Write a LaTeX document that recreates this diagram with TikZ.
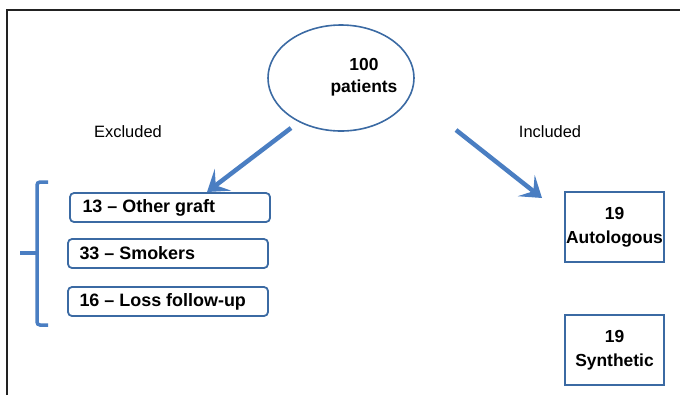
\documentclass[tikz,border=0pt]{standalone}
\usepackage{fontspec}
\setmainfont{Liberation Sans}
\usetikzlibrary{shapes.geometric,arrows.meta}
\definecolor{arrowblue}{HTML}{4A7EC2}
\definecolor{edgeblue}{HTML}{3B6AA3}
\definecolor{frameblack}{HTML}{222222}
\begin{document}
\begin{tikzpicture}[x=1bp,y=-1bp,
  boxtext/.style={font=\fontsize{18}{20}\selectfont\bfseries},
  exbox/.style={draw=edgeblue,line width=1.8bp,rounded corners=4bp,minimum width=200bp,minimum height=29bp,inner sep=0pt},
  inbox/.style={draw=edgeblue,line width=1.8bp,minimum width=99bp,minimum height=70bp,inner sep=0pt,align=center,font=\fontsize{17.5}{24}\selectfont\bfseries},
  bigarrow/.style={draw=arrowblue,line width=4.5bp,-{Stealth[length=20bp,width=27bp,inset=9bp]}},
  lbl/.style={font=\fontsize{16.5}{18}\selectfont}
]
\useasboundingbox (0,0) rectangle (680,395);
% frame
\draw[frameblack,line width=1.6bp] (7,395) -- (7,10) -- (680,10);
% ellipse
\node[ellipse,draw=edgeblue,line width=1.6bp,minimum width=146bp,minimum height=106bp] (pat) at (341,78) {};
\node[align=center,inner sep=0pt,font=\fontsize{17.5}{20}\selectfont\bfseries] (pattext) at (364,77) {100\\[2bp]patients};
% labels
\node[lbl] (exl) at (128,132) {Excluded};
\node[lbl] (inl) at (550,132) {Included};
% excluded boxes
\node[exbox] (b1) at (170,207.5) {};
\node[boxtext,anchor=west] (t1) at (79,207.5) {13 -- Other graft};
\node[exbox] (b2) at (168,253.5) {};
\node[boxtext,anchor=west] (t2) at (76,253.5) {33 -- Smokers};
\node[exbox] (b3) at (168,301.5) {};
\node[boxtext,anchor=west] (t3) at (76,301.5) {16 -- Loss follow-up};
% included boxes
\node[inbox] (c1) at (614.5,227) {19\\Autologous};
\node[inbox] (c2) at (614.5,350) {19\\Synthetic};
% arrows
\coordinate (a1s) at (291,128);
\coordinate (a1e) at (207,192);
\coordinate (a2s) at (456,130);
\coordinate (a2e) at (542,198);
\draw[bigarrow] (a1s) -- (a1e);
\draw[bigarrow] (a2s) -- (a2e);
% brace
\draw[arrowblue,line width=3.5bp,rounded corners=3bp] (48,182) -- (37,182) -- (37,325) -- (48,325);
\draw[arrowblue,line width=3.5bp] (37,253) -- (20,253);
\end{tikzpicture}
\end{document}
